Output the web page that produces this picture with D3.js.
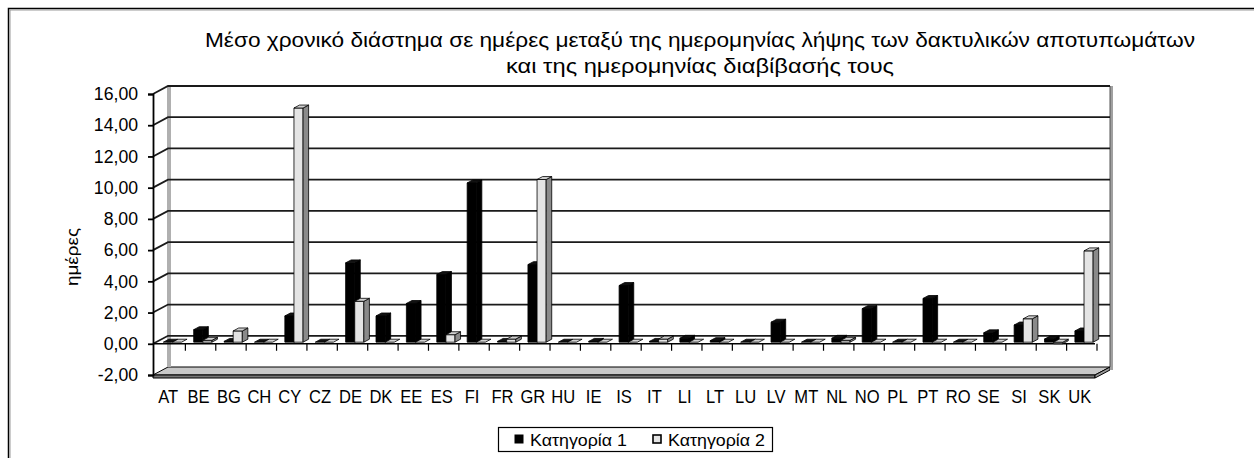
<!DOCTYPE html>
<html><head><meta charset="utf-8">
<script src="https://cdn.jsdelivr.net/npm/d3@7"></script>
<style>body{margin:0;background:#fff}svg{display:block}text{font-family:Arial,"Liberation Sans",sans-serif;fill:#000}</style>
</head><body><svg id="c" width="1254" height="458"></svg>
<script>
const categories = ["AT","BE","BG","CH","CY","CZ","DE","DK","EE","ES","FI","FR","GR","HU","IE","IS","IT","LI","LT","LU","LV","MT","NL","NO","PL","PT","RO","SE","SI","SK","UK"];
const series1 = [0,0.8,0.05,0,1.68,0,5.08,1.68,2.48,4.33,10.2,0.05,4.97,0,0.05,3.63,0.05,0.25,0.1,0,1.28,0,0.25,2.15,0,2.8,0,0.6,1.1,0.2,0.72];
const series2 = [0,0.12,0.72,0,15.0,0,2.62,0,0,0.48,0,0.2,10.42,0,0,0,0.2,0,0,0,0,0,0.12,0,0,0,0,0,1.5,-0.1,5.85];
const seriesNames = ["Κατηγορία 1","Κατηγορία 2"];
const yTicks = [-2,0,2,4,6,8,10,12,14,16];
const titleLines = ["Μέσο χρονικό διάστημα σε ημέρες μεταξύ της ημερομηνίας λήψης των δακτυλικών αποτυπωμάτων","και της ημερομηνίας διαβίβασής τους"];
const yLabel = "ημέρες";

const svg = d3.select("#c");
const DX = 15, DY = -8;
const x = d3.scaleBand().domain(categories).range([153,1095]);
const y = d3.scaleLinear().domain([-2,16]).range([375,94]);
const P = (xx, v, f) => [xx + f*DX, y(v) + f*DY];
const poly = pts => "M" + pts.map(p => p.join(",")).join("L") + "Z";
const fmt = v => d3.format(".2f")(v).replace(".", ",").replace("\u2212", "-");

// outer frame
svg.append("rect").attr("x",8.5).attr("y",8.5).attr("width",1300).attr("height",500).attr("fill","none").attr("stroke","#000").attr("stroke-width",1.5);
svg.append("rect").attr("x",10).attr("y",10).attr("width",1300).attr("height",500).attr("fill","none").attr("stroke","#999").attr("stroke-width",1);

// title
titleLines.forEach((t,i) => {
  const w = i===0 ? 990 : 388;
  svg.append("text").attr("x",700).attr("y",i===0?47:73).attr("text-anchor","middle")
    .attr("font-size",20).attr("textLength",w).attr("lengthAdjust","spacingAndGlyphs").text(t);
});

// y label
svg.append("text").attr("transform","translate(78,257) rotate(-90)").attr("text-anchor","middle")
  .attr("font-size",16).attr("textLength",58).attr("lengthAdjust","spacingAndGlyphs").text(yLabel);

const x0 = x.range()[0], x1 = x.range()[1];
// floor
svg.append("path").attr("d", poly([P(x0,-2,0),P(x1,-2,0),P(x1,-2,1),P(x0,-2,1)])).attr("fill","#c8c8c8").attr("stroke","#000").attr("stroke-width",1);
svg.append("path").attr("d", poly([[x0,y(-2)],[x1,y(-2)],[x1,y(-2)+3],[x0,y(-2)+3]])).attr("fill","#777").attr("stroke","#000").attr("stroke-width",1);
svg.append("path").attr("d", poly([[x1,y(-2)],P(x1,-2,1),[x1+DX,y(-2)+DY+3],[x1,y(-2)+3]])).attr("fill","#999").attr("stroke","#000").attr("stroke-width",1);

// wall edges (gray thickness)
svg.append("rect").attr("x",x0+DX-1).attr("y",y(16)+DY).attr("width",4).attr("height",y(-2)-y(16)).attr("fill","#b0b0b0");
svg.append("rect").attr("x",x1+DX).attr("y",y(16)+DY).attr("width",3).attr("height",y(-2)-y(16)+3).attr("fill","#a0a0a0");
svg.append("line").attr("x1",x1+DX).attr("x2",x1+DX).attr("y1",y(16)+DY).attr("y2",y(-2)+DY).attr("stroke","#555").attr("stroke-width",1);

// gridlines on back wall and left wall
const gl = svg.append("g");
yTicks.filter(v => v > -2).forEach(v => {
  gl.append("path").attr("d", "M" + [x0,y(v)].join(",") + "L" + P(x0,v,1).join(",") + "L" + P(x1,v,1).join(","))
    .attr("fill","none").attr("stroke","#1a1a1a").attr("stroke-width",1.8);
});

// zero category axis line with boundary ticks
svg.append("line").attr("x1",x0).attr("x2",x1).attr("y1",y(0)).attr("y2",y(0)).attr("stroke","#000").attr("stroke-width",1.5);
categories.slice(1).concat(["__end"]).forEach((c,i) => {
  const xx = c==="__end" ? x1 : x(c);
  svg.append("line").attr("x1",xx+2).attr("x2",xx+2).attr("y1",y(0)).attr("y2",y(0)+7).attr("stroke","#000").attr("stroke-width",1.2);
});

// bars
const f0 = 0.2, f1 = 0.57;
const bw = x.bandwidth()*0.3;
const styles = [
  {front:"#000", side:"#000", top:"#111", stroke:"#000"},
  {front:"#e4e4e4", side:"#8a8a8a", top:"#d0d0d0", stroke:"#000"}
];
const bars = svg.append("g");
categories.forEach((c,i) => {
  [series1[i], series2[i]].forEach((v,s) => {
    const xl = x(c) + x.bandwidth()*0.24 + s*bw, xr = xl + bw;
    const lo = Math.min(0,v), hi = Math.max(0,v);
    const st = styles[s];
    const g = bars.append("g").attr("stroke",st.stroke).attr("stroke-width",0.8).attr("stroke-linejoin","round");
    if (hi > lo) {
      g.append("path").attr("d", poly([P(xl,lo,f0),P(xr,lo,f0),P(xr,hi,f0),P(xl,hi,f0)])).attr("fill",st.front);
      g.append("path").attr("d", poly([P(xr,lo,f0),P(xr,lo,f1),P(xr,hi,f1),P(xr,hi,f0)])).attr("fill",st.side);
    }
    g.append("path").attr("d", poly([P(xl,hi,f0),P(xr,hi,f0),P(xr,hi,f1),P(xl,hi,f1)])).attr("fill",st.top);
  });
});

// y axis
const ya = svg.append("g").attr("transform",`translate(${x0},0)`)
  .call(d3.axisLeft(y).tickValues(yTicks).tickFormat(fmt).tickSize(5).tickPadding(10));
ya.select(".domain").attr("stroke","#000").attr("stroke-width",1.8);
ya.selectAll(".tick line").attr("stroke","#000").attr("stroke-width",1.8);
ya.selectAll("text").attr("font-size",18).attr("font-family","Arial,'Liberation Sans',sans-serif").attr("fill","#000");
ya.selectAll("text").each(function(){ const n=this.getComputedTextLength(); d3.select(this).attr("textLength",n*0.98).attr("lengthAdjust","spacingAndGlyphs"); });

// category labels
const xa = svg.append("g").attr("transform",`translate(0,${y(-2)})`)
  .call(d3.axisBottom(x).tickSize(0).tickPadding(15));
xa.select(".domain").remove();
xa.selectAll("text").attr("font-size",18).attr("font-family","Arial,'Liberation Sans',sans-serif").attr("fill","#000");
xa.selectAll("text").each(function(){ const n=this.getComputedTextLength(); d3.select(this).attr("textLength",n*0.92).attr("lengthAdjust","spacingAndGlyphs"); });

// legend
const lg = svg.append("g");
lg.append("rect").attr("x",498.5).attr("y",427.5).attr("width",274).attr("height",24).attr("fill","#fff").attr("stroke","#000").attr("stroke-width",1.2);
const lx = [515, 653];
seriesNames.forEach((n,i) => {
  lg.append("rect").attr("x",lx[i]).attr("y",435).attr("width",8).attr("height",8)
    .attr("fill", i===0 ? "#000" : "#e4e4e4").attr("stroke","#000").attr("stroke-width",i===0?1:1.6);
  lg.append("text").attr("x",lx[i]+15).attr("y",446).attr("font-size",17).attr("textLength",97).attr("lengthAdjust","spacingAndGlyphs").text(n);
});
</script></body></html>
